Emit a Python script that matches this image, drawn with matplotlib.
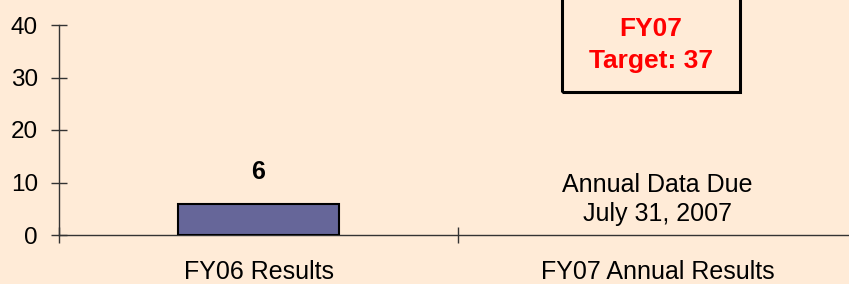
import matplotlib.pyplot as plt
from matplotlib.patches import Rectangle

plt.rcParams['font.family'] = ['Liberation Sans', 'DejaVu Sans']

categories = ['FY06 Results', 'FY07 Annual Results']
results = [6]
yticks = [0, 10, 20, 30, 40]
bg = '#FFEBD7'

fig = plt.figure(figsize=(8.49, 2.84), dpi=100, facecolor=bg)
ax = fig.add_axes([59 / 849, 49 / 284, 798 / 849, 210 / 284])
ax.set_facecolor(bg)

# bar for the one year that has data
ax.bar([0], results, width=0.405, color='#666699', edgecolor='black', linewidth=1.5, zorder=3)
ax.annotate(str(results[0]), (0, results[0]), xytext=(0, 22.5), textcoords='offset points',
            ha='center', va='center', fontsize=18, fontweight='bold')

ax.text(1, 6.76, 'Annual Data Due\nJuly 31, 2007', ha='center', va='center',
        fontsize=18, linespacing=1.24)

ax.set_xlim(-0.5, 1.5)
ax.set_ylim(0, 40)
ax.set_yticks(yticks)
ax.set_xticks([0, 1])
ax.set_xticklabels(categories)
ax.set_xticks([-0.5, 0.5, 1.5], minor=True)

for s in ['top', 'right']:
    ax.spines[s].set_visible(False)
for s in ['left', 'bottom']:
    ax.spines[s].set_color('#333333')
    ax.spines[s].set_linewidth(1)

ax.tick_params(axis='y', direction='inout', length=11.5, width=1, color='#333333',
               labelsize=17.5, pad=9.5)
ax.tick_params(axis='x', which='major', length=0, labelsize=18, pad=18)
ax.tick_params(axis='x', which='minor', direction='inout', length=12, width=1, color='#333333')

# target box (top clipped by the figure edge)
fig.patches.append(Rectangle((562 / 849, 192 / 284), 178 / 849, 0.5, transform=fig.transFigure,
                             facecolor='none', edgecolor='black', linewidth=2.2))
fig.text(651 / 849, (284 - 45) / 284, 'FY07\nTarget: 37', ha='center', va='center',
         color='#FF0000', fontsize=19, fontweight='bold', linespacing=1.375)

fig.savefig('out.png', dpi=100, facecolor=bg)
